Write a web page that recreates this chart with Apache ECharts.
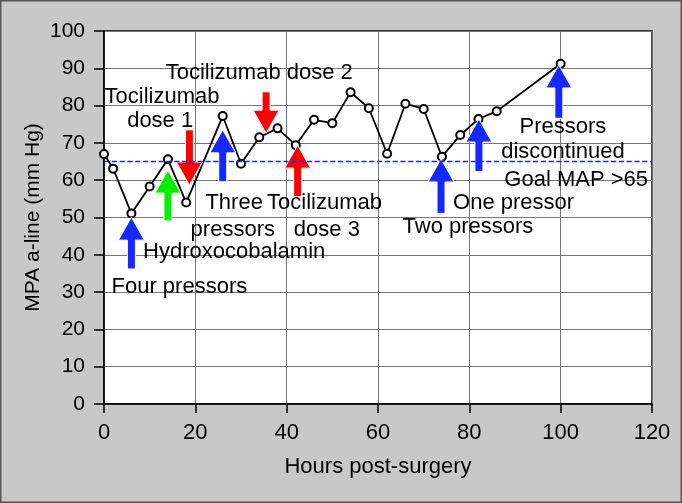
<!DOCTYPE html>
<html>
<head>
<meta charset="utf-8">
<script src="https://cdn.jsdelivr.net/npm/echarts@6/dist/echarts.min.js"></script>
<style>
  html, body { margin: 0; padding: 0; background: #c8c8c8; }
  #chart { width: 682px; height: 503px; }
</style>
</head>
<body>
<div id="chart"></div>
<script>
// MAP readings (hours post-surgery vs mm Hg)
var hours = [0, 2, 6, 10, 14, 18, 26, 30, 34, 38, 42, 46, 50, 54, 58, 62, 66, 70, 74, 78, 82, 86, 100];
var mapValues = [67, 63.1, 51.1, 58.3, 65.6, 54, 77.2, 64.4, 71.5, 73.9, 69.4, 76.2, 75.3, 83.6, 79.3, 67.1, 80.5, 79.1, 66.3, 72.1, 76.4, 78.5, 91.2];
var goalMap = 65;

// arrows: x, tip value, tail value, kind
var arrowX = [6, 14, 18.7, 26, 35.5, 42.4, 73.8, 82.1, 99.6];
var arrowTip = [50.1, 62.7, 58.7, 73.5, 72.6, 69.4, 65.7, 76.4, 90.9];
var arrowTail = [36.2, 49.1, 73.5, 59.6, 83.7, 55.6, 51.1, 62.3, 76.6];
var arrowKind = ['pressor', 'hydroxo', 'toci', 'pressor', 'toci', 'toci', 'pressor', 'pressor', 'pressor'];

// annotation texts and where they sit (data coords)
var noteText = ['Tocilizumab', 'dose 1', 'Tocilizumab dose 2', 'Three', 'pressors', 'Tocilizumab', 'dose 3',
  'Hydroxocobalamin', 'Four pressors', 'Two pressors', 'One pressor', 'Pressors', 'discontinued', 'Goal MAP >65'];
var noteX = [12.7, 12.3, 34.0, 28.5, 28.2, 48.3, 48.8, 28.5, 16.5, 79.7, 89.7, 100.5, 100.5, 103.4];
var noteY = [82.4, 76.0, 88.7, 53.8, 46.6, 53.8, 46.6, 40.8, 31.4, 47.5, 53.8, 74.3, 67.6, 60.2];

var kindColor = { pressor: '#1428ff', hydroxo: '#00f000', toci: '#ff0000' };
var font = '"Liberation Sans", Arial, sans-serif';

var chart = echarts.init(document.getElementById('chart'), null, { renderer: 'canvas' });

var lineData = hours.map(function (h, i) { return [h, mapValues[i]]; });
var arrowData = arrowX.map(function (x, i) { return [x, arrowTip[i], arrowTail[i]]; });
var noteData = noteX.map(function (x, i) { return [x, noteY[i]]; });

function renderArrow(params, api) {
  var tip = api.coord([api.value(0), api.value(1)]);
  var tail = api.coord([api.value(0), api.value(2)]);
  var d = tail[1] > tip[1] ? 1 : -1;
  var hl = 23, hw = 13, sw = 4;
  var x = tip[0], y = tip[1];
  return {
    type: 'polygon',
    shape: {
      points: [
        [x, y], [x + hw, y + d * hl], [x + sw, y + d * hl], [x + sw, tail[1]],
        [x - sw, tail[1]], [x - sw, y + d * hl], [x - hw, y + d * hl]
      ]
    },
    style: { fill: kindColor[arrowKind[params.dataIndex]], stroke: '#fff', lineWidth: 1 }
  };
}

function renderNote(params, api) {
  var p = api.coord([api.value(0), api.value(1)]);
  return {
    type: 'text',
    x: p[0],
    y: p[1],
    style: {
      text: noteText[params.dataIndex],
      fill: '#000',
      font: '22px ' + font,
      align: 'center',
      verticalAlign: 'middle'
    }
  };
}

var option = {
  animation: false,
  backgroundColor: '#c8c8c8',
  textStyle: { fontFamily: font },
  graphic: [{
    type: 'rect',
    shape: { x: 0.75, y: 0.75, width: 680.5, height: 501.5 },
    style: { fill: 'none', stroke: '#555', lineWidth: 1.5 },
    silent: true
  }],
  grid: {
    left: 104, right: 30, top: 31, bottom: 99,
    show: true,
    backgroundColor: '#fff',
    borderColor: '#000',
    borderWidth: 1.5
  },
  xAxis: {
    type: 'value',
    min: 0, max: 120, interval: 20,
    name: 'Hours post-surgery',
    nameLocation: 'middle',
    nameGap: 52,
    nameMoveOverlap: false,
    nameTextStyle: { fontSize: 22, color: '#000', fontFamily: font },
    axisLine: { show: true, lineStyle: { color: '#000', width: 1.5 } },
    axisTick: { show: true, length: 9, lineStyle: { color: '#000', width: 1.5 } },
    axisLabel: { fontSize: 22, color: '#000', margin: 18, fontFamily: font },
    splitLine: { show: true, lineStyle: { color: '#777', width: 1 } }
  },
  yAxis: {
    type: 'value',
    min: 0, max: 100, interval: 10,
    name: 'MPA a-line (mm Hg)',
    nameLocation: 'middle',
    nameGap: 60,
    nameMoveOverlap: false,
    nameTextStyle: { fontSize: 21, color: '#000', fontFamily: font },
    axisLine: { show: true, lineStyle: { color: '#000', width: 1.5 } },
    axisTick: { show: true, length: 10, lineStyle: { color: '#000', width: 1.5 } },
    axisLabel: { fontSize: 21, color: '#000', margin: 19, fontFamily: font },
    splitLine: { show: true, lineStyle: { color: '#777', width: 1 } }
  },
  series: [{
    type: 'line',
    data: lineData,
    z: 2,
    symbol: 'emptyCircle',
    symbolSize: 8,
    lineStyle: { color: '#000', width: 1.8 },
    itemStyle: { color: '#000', borderWidth: 1.2 },
    markLine: {
      silent: true,
      symbol: 'none',
      label: { show: false },
      lineStyle: { color: '#2222ee', type: 'dashed', width: 1.3 },
      data: [{ yAxis: goalMap }]
    }
  }, {
    type: 'custom',
    z: 3,
    data: arrowData,
    renderItem: renderArrow,
    clip: false
  }, {
    type: 'custom',
    z: 4,
    data: noteData,
    renderItem: renderNote,
    clip: false
  }]
};

chart.setOption(option);
</script>
</body>
</html>
